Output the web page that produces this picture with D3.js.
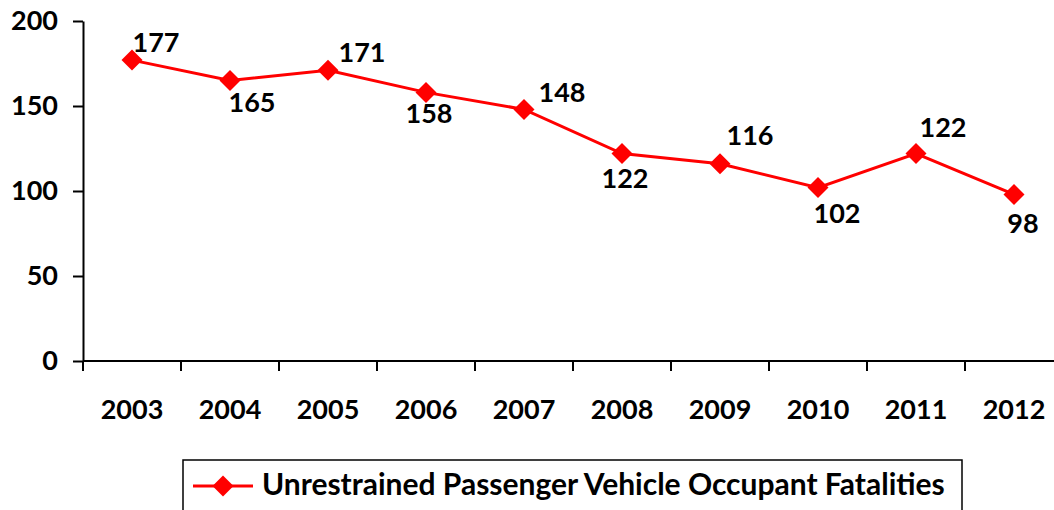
<!DOCTYPE html>
<html>
<head>
<meta charset="utf-8">
<script src="https://cdn.jsdelivr.net/npm/d3@7"></script>
<style>
  html, body { margin: 0; padding: 0; background: #fff; overflow: hidden; }
  svg { display: block; }
  text { font-family: Lato, "Open Sans", sans-serif; font-weight: bold; fill: #000; }
</style>
</head>
<body>
<svg id="chart" width="1054" height="510"></svg>
<script>
// ---- data ----
const years = ["2003","2004","2005","2006","2007","2008","2009","2010","2011","2012"];
const fatalities = [177, 165, 171, 158, 148, 122, 116, 102, 122, 98];
const yTicks = [0, 50, 100, 150, 200];
const seriesName = "Unrestrained Passenger Vehicle Occupant Fatalities";

// ---- layout (label nudges, in px, relative to the marker) ----
const labelDx = [24, 22, 34, 3, 38, 3, 30, 19, 27, 9];
const labelDy = [-8, 31, -8, 31, -7, 34, -19, 35, -17, 39];

(function () {
const svg = d3.select("#chart");
const plotLeft = 83, axisRight = 1063, plotTop = 21, plotBottom = 361;
const red = "#FF0000";
const fs = 27;

const x = d3.scaleBand().domain(years).range([plotLeft, axisRight]).paddingInner(0).paddingOuter(0);
const y = d3.scaleLinear().domain([0, 200]).range([plotBottom, plotTop]);
const cx = d => x(d) + x.bandwidth() / 2;

// y axis
const yAxis = d3.axisLeft(y).tickValues(yTicks).tickSize(10).tickPadding(15).tickSizeOuter(0);
const gy = svg.append("g").attr("transform", `translate(${plotLeft},0)`).call(yAxis);
gy.select(".domain").attr("stroke", "#000").attr("stroke-width", 2);
gy.selectAll(".tick line").attr("stroke", "#000").attr("stroke-width", 2);
gy.selectAll(".tick text").style("font-size", fs + "px").style("font-family", "Lato, 'Open Sans', sans-serif").style("font-weight", "bold").attr("fill", "#000");

// x axis: ticks at band boundaries
const boundaries = years.map(d => x(d)).concat([axisRight]);
const gx = svg.append("g");
gx.append("line").attr("x1", plotLeft).attr("x2", axisRight).attr("y1", plotBottom).attr("y2", plotBottom)
  .attr("stroke", "#000").attr("stroke-width", 2);
gx.selectAll("line.tk").data(boundaries).join("line").attr("class", "tk")
  .attr("x1", d => d).attr("x2", d => d).attr("y1", plotBottom).attr("y2", plotBottom + 10)
  .attr("stroke", "#000").attr("stroke-width", 2);
gx.selectAll("text").data(years).join("text")
  .attr("x", d => cx(d)).attr("y", 419)
  .attr("text-anchor", "middle").style("font-size", fs + "px")
  .text(d => d);

// line
const pts = years.map((d, i) => [cx(d), y(fatalities[i])]);
svg.append("path").datum(pts)
  .attr("d", d3.line())
  .attr("fill", "none").attr("stroke", red).attr("stroke-width", 3);

const diamondPath = "M0,-10.5L10.5,0L0,10.5L-10.5,0Z";
svg.selectAll("path.mk").data(pts).join("path").attr("class", "mk")
  .attr("d", diamondPath)
  .attr("transform", d => `translate(${d[0]},${d[1]})`)
  .attr("fill", red);

// data labels
svg.selectAll("text.lbl").data(fatalities).join("text").attr("class", "lbl")
  .attr("x", (d, i) => pts[i][0] + labelDx[i])
  .attr("y", (d, i) => pts[i][1] + labelDy[i])
  .attr("text-anchor", "middle").style("font-size", fs + "px")
  .text(d => d);

// legend
const lg = svg.append("g");
lg.append("rect").attr("x", 183).attr("y", 460).attr("width", 779).attr("height", 70)
  .attr("fill", "none").attr("stroke", "#000").attr("stroke-width", 1.5);
lg.append("line").attr("x1", 193).attr("x2", 253).attr("y1", 486).attr("y2", 486)
  .attr("stroke", red).attr("stroke-width", 3);
lg.append("path").attr("d", diamondPath).attr("transform", "translate(223,486)").attr("fill", red);
const lt = lg.append("text").attr("x", 262).attr("y", 495).style("font-size", fs + "px").text(seriesName);
const len = lt.node().getComputedTextLength();
const target = 683;
lt.style("font-size", (fs * target / len) + "px");
})();
</script>
</body>
</html>
